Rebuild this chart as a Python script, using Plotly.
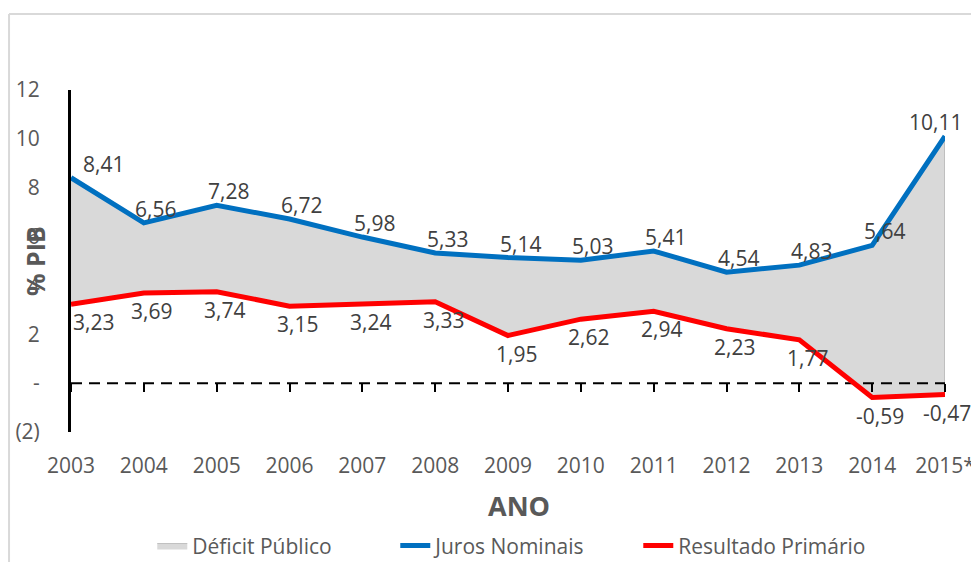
import plotly.graph_objects as go

anos = ["2003", "2004", "2005", "2006", "2007", "2008", "2009",
        "2010", "2011", "2012", "2013", "2014", "2015*"]
juros_nominais = [8.41, 6.56, 7.28, 6.72, 5.98, 5.33, 5.14,
                  5.03, 5.41, 4.54, 4.83, 5.64, 10.11]
resultado_primario = [3.23, 3.69, 3.74, 3.15, 3.24, 3.33, 1.95,
                      2.62, 2.94, 2.23, 1.77, -0.59, -0.47]
zero_line = [0] * len(anos)
y_tickvals = [-2, 0, 2, 4, 6, 8, 10, 12]
y_ticktext = ["(2)", "-", "2", "4", "6", "8", "10", "12"]

BLUE = "#0070C0"
RED = "#FF0000"
FILL = "#D9D9D9"
TXT = "#595959"
FONT = "Open Sans"
FS = 21

def fmt(v):
    return f"{v:.2f}".replace(".", ",")

fig = go.Figure()

# invisible base for the area
fig.add_trace(go.Scatter(x=anos, y=resultado_primario, mode="lines",
                         line=dict(width=0, color=RED), showlegend=False,
                         hoverinfo="skip"))
# area between the two series
fig.add_trace(go.Scatter(x=anos, y=juros_nominais, mode="lines",
                         fill="tonexty", fillcolor=FILL,
                         line=dict(width=1, color="#BFBFBF"),
                         name="Déficit Público"))
# grey right edge of the area
fig.add_trace(go.Scatter(x=[anos[-1], anos[-1]], y=[0, juros_nominais[-1]],
                         mode="lines", line=dict(width=2, color="#BFBFBF"),
                         showlegend=False, hoverinfo="skip"))
# dashed zero line
fig.add_trace(go.Scatter(x=anos, y=zero_line, mode="lines",
                         line=dict(color="black", width=2, dash="11px,7px"),
                         showlegend=False, hoverinfo="skip"))
# invisible trace for tick marks axis
fig.add_trace(go.Scatter(x=anos, y=zero_line, mode="lines", xaxis="x2",
                         line=dict(width=0), showlegend=False, hoverinfo="skip"))
fig.add_trace(go.Scatter(x=anos, y=juros_nominais, mode="lines",
                         line=dict(color=BLUE, width=5), name="Juros Nominais"))
fig.add_trace(go.Scatter(x=anos, y=resultado_primario, mode="lines",
                         line=dict(color=RED, width=5), name="Resultado Primário"))

last = len(anos) - 1

def shift_blue(i):
    return 32 if i == 0 else (-10 if i == last else 12)

def shift_red(i):
    return 22 if i == 0 else (2 if i == last else 8)

annotations = []
for i, v in enumerate(juros_nominais):
    annotations.append(dict(x=i, y=v, xref="x", yref="y", text=fmt(v),
                            showarrow=False, xshift=shift_blue(i), yshift=14,
                            font=dict(family=FONT, size=FS, color="#404040")))
for i, v in enumerate(resultado_primario):
    annotations.append(dict(x=i, y=v, xref="x", yref="y", text=fmt(v),
                            showarrow=False, xshift=shift_red(i), yshift=-18,
                            font=dict(family=FONT, size=FS, color="#404040")))

annotations.append(dict(x=-0.0412, y=0.5, xref="paper", yref="paper",
                        text="<b>% PIB</b>", textangle=-90, showarrow=False,
                        xanchor="center", yanchor="middle",
                        font=dict(family=FONT, size=25, color=TXT)))
annotations.append(dict(x=0.5126, y=-0.2135, xref="paper", yref="paper",
                        text="<b>ANO</b>", showarrow=False,
                        xanchor="center", yanchor="middle",
                        font=dict(family=FONT, size=27, color=TXT)))

shapes = [
    dict(type="line", xref="paper", yref="paper", x0=-0.0709, x1=1.05,
         y0=1.222, y1=1.222, line=dict(color="#D9D9D9", width=2)),
    dict(type="line", xref="paper", yref="paper", x0=-0.0709, x1=-0.0709,
         y0=1.222, y1=-0.45, line=dict(color="#D9D9D9", width=2)),
]

# page body has an 8px margin: figure is sized so the plot area lands
# at the same window pixels as in the reference
fig.update_layout(
    width=971, height=554, autosize=False,
    margin=dict(l=63, r=34, t=82, b=130, autoexpand=False),
    plot_bgcolor="white", paper_bgcolor="white",
    font=dict(family=FONT, size=FS, color=TXT),
    xaxis=dict(type="category", categoryarray=anos, range=[0, 12],
               showgrid=False, zeroline=False, showline=False, ticks="",
               automargin=False,
               ticklabelstandoff=19, tickfont=dict(size=FS, color=TXT)),
    xaxis2=dict(type="category", categoryarray=anos, range=[0, 12],
                overlaying="x", anchor="free", position=2 / 14,
                showgrid=False, zeroline=False, showline=False,
                ticks="outside", ticklen=8, tickwidth=2, tickcolor="black",
                showticklabels=False),
    yaxis=dict(range=[-2, 12], tickvals=y_tickvals, ticktext=y_ticktext,
               showgrid=False, zeroline=False, showline=True,
               linecolor="black", linewidth=3, ticks="", automargin=False,
               ticklabelstandoff=24, tickfont=dict(size=FS, color=TXT)),
    legend=dict(orientation="h", x=0.093, xanchor="left", y=-0.333,
                yanchor="middle", traceorder="normal",
                entrywidth=198, entrywidthmode="pixels",
                font=dict(family=FONT, size=FS, color=TXT),
                bgcolor="rgba(0,0,0,0)"),
    annotations=annotations,
    shapes=shapes,
    showlegend=True,
)

fig.write_html("out.html")
